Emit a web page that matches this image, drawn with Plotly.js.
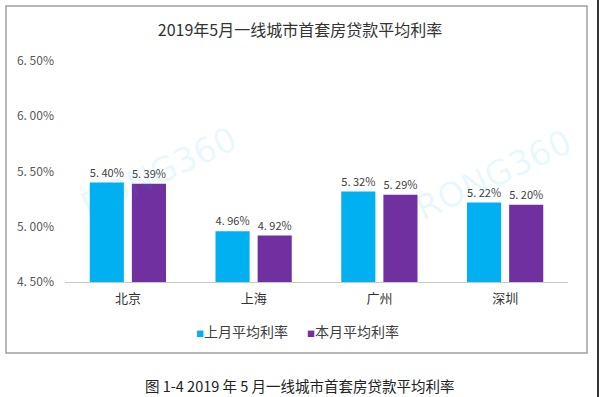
<!DOCTYPE html>
<html>
<head>
<meta charset="utf-8">
<script src="https://cdn.plot.ly/plotly-3.0.1.min.js"></script>
<style>html,body{margin:0;padding:0;background:#fff;}#chart{width:600px;height:397px;}</style>
</head>
<body>
<div id="chart"></div>
<script>
const cities = ['北京', '上海', '广州', '深圳'];
const lastMonth = [5.40, 4.96, 5.32, 5.22];
const thisMonth = [5.39, 4.92, 5.29, 5.20];
const seriesNames = ['上月平均利率', '本月平均利率'];
const seriesColors = ['#00b0f0', '#7030a0'];
const yTicks = [4.5, 5.0, 5.5, 6.0, 6.5];

const fmt = v => v.toFixed(2).replace('.', '. ') + '%';
const font = '"Noto Sans CJK SC", "DejaVu Sans", sans-serif';

// plot area in pixels: x 65..568, y 61..282
const PL = 65, PR = 568, PT = 61, PB = 282;
const px = x => (x - PL) / (PR - PL);
const py = y => (PB - y) / (PB - PT);

const traces = [lastMonth, thisMonth].map((vals, i) => ({
  type: 'bar', x: cities, y: vals, name: seriesNames[i], showlegend: false,
  marker: {color: seriesColors[i]}, text: vals.map(fmt), textposition: 'outside',
  textfont: {size: 12, color: '#404040', family: font}, cliponaxis: false
}));

const legendAnn = seriesNames.map((n, i) => ({
  text: '<span style="color:' + seriesColors[i] + ';font-size:8px">■</span>' + n,
  xref: 'paper', yref: 'paper', x: px(i === 0 ? 194 : 305), y: py(331),
  xanchor: 'left', yanchor: 'middle', showarrow: false,
  font: {size: 14, color: '#404040', family: font}
}));

const wm = (x, y) => ({
  text: 'RONG360', xref: 'paper', yref: 'paper', x: px(x), y: py(y),
  xanchor: 'center', yanchor: 'middle',
  showarrow: false, textangle: -25,
  font: {size: 34, color: 'rgba(0,176,240,0.09)', family: 'DejaVu Sans'}
});

const layout = {
  width: 600, height: 397,
  margin: {l: PL, r: 600 - PR, t: PT, b: 397 - PB},
  paper_bgcolor: '#fff', plot_bgcolor: 'rgba(0,0,0,0)',
  font: {family: font, color: '#404040'},
  title: {text: '2019年5月一线城市首套房贷款平均利率', font: {size: 16, color: '#333', family: font},
          x: 0.5, xanchor: 'center', y: 1 - 30/397, yanchor: 'middle'},
  barmode: 'group', bargap: 0.33, bargroupgap: 0.19,
  xaxis: {showgrid: false, showline: true, linecolor: '#c8c8c8', linewidth: 1,
          tickfont: {size: 13, color: '#333'}, ticks: '', ticklabelstandoff: 4},
  yaxis: {range: [4.5, 6.5], tickvals: yTicks, ticktext: yTicks.map(fmt), showgrid: false,
          zeroline: false, showline: false, ticks: '', ticklabelstandoff: 10,
          tickfont: {size: 12, color: '#595959'}},
  showlegend: false,
  shapes: [
    {type: 'rect', xref: 'paper', yref: 'paper', x0: px(6), x1: px(587), y0: py(353), y1: py(6),
     line: {color: '#a0a0a0', width: 1.5}, fillcolor: 'rgba(0,0,0,0)', layer: 'below'},
    {type: 'line', xref: 'paper', yref: 'paper', x0: px(598), x1: px(598), y0: py(397), y1: py(0),
     line: {color: '#333', width: 2}}
  ],
  annotations: [
    {text: '图 1-4 2019 年 5 月一线城市首套房贷款平均利率', xref: 'paper', yref: 'paper',
     x: px(300), y: py(385), xanchor: 'center', yanchor: 'middle', showarrow: false,
     font: {size: 14.5, color: '#222', family: font}},
    wm(158, 172), wm(493, 175)
  ].concat(legendAnn)
};

Plotly.newPlot('chart', traces, layout, {displayModeBar: false, staticPlot: true});
</script>
</body>
</html>
